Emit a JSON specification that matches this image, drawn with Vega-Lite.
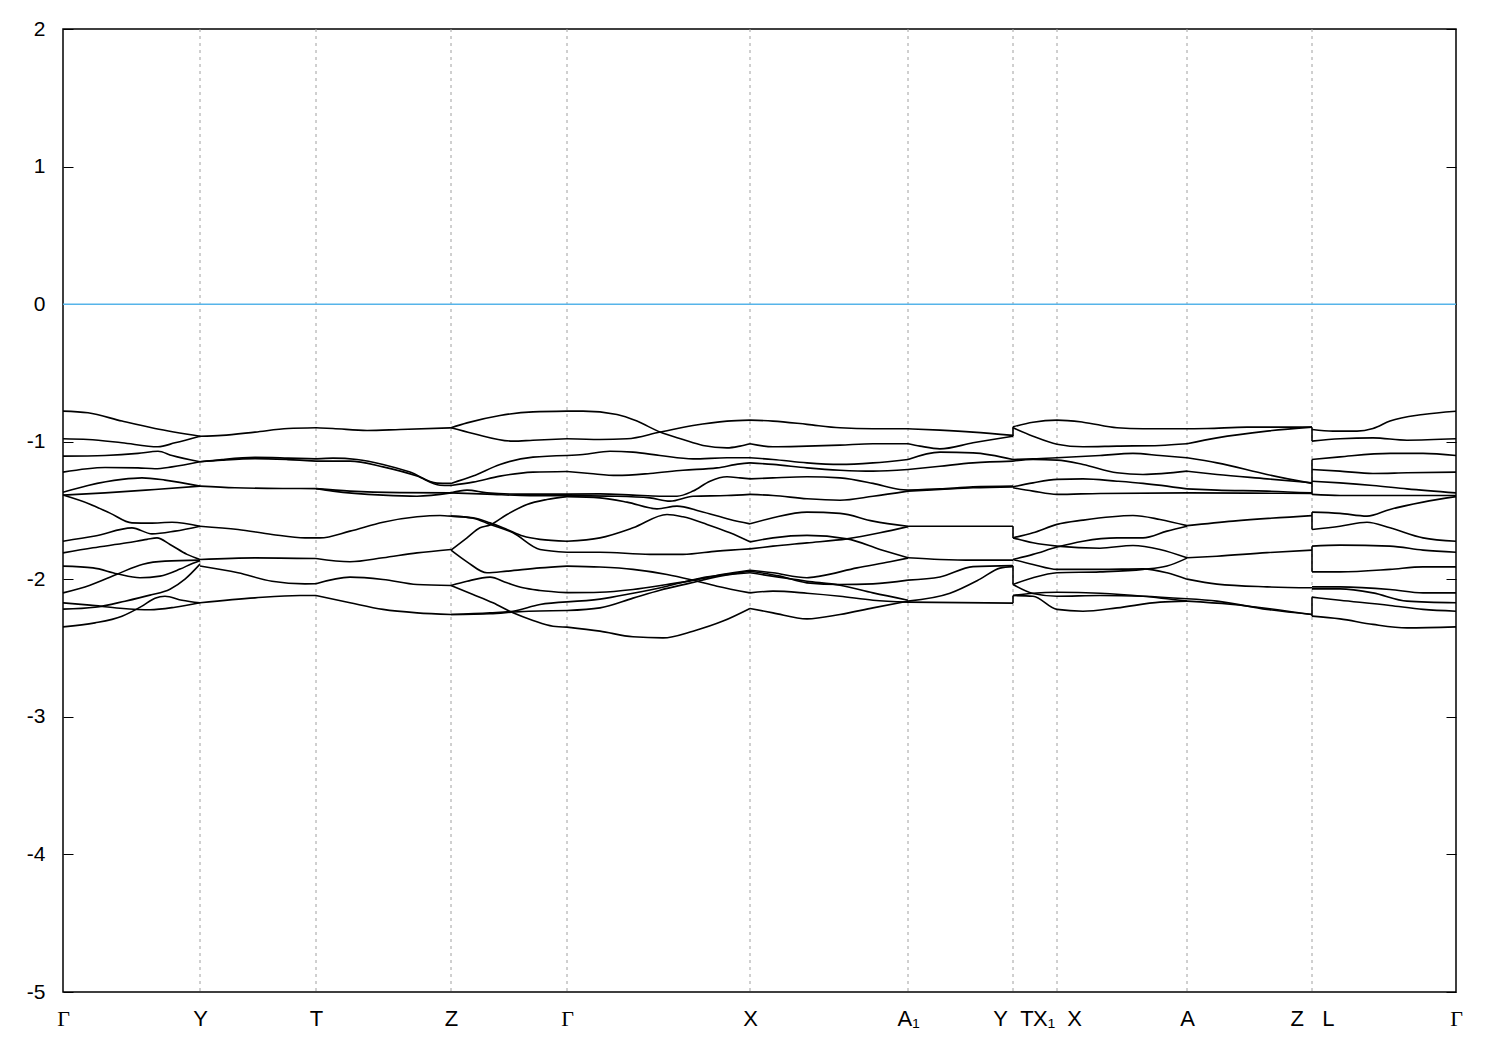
{
  "$schema": "https://vega.github.io/schema/vega-lite/v6.json",
  "width": 1393,
  "height": 963,
  "autosize": {"type": "none"},
  "padding": {"left": 63, "top": 29, "right": 44, "bottom": 58},
  "background": "white",
  "config": {"view": {"stroke": "black", "strokeWidth": 1.5}, "font": "Liberation Sans"},
  "resolve": {"axis": {"y": "independent"}},
  "layer": [
    {
      "data": {"values": [{"k": 137}, {"k": 253}, {"k": 388}, {"k": 504}, {"k": 687}, {"k": 845}, {"k": 950}, {"k": 994}, {"k": 1124}, {"k": 1249}]},
      "mark": {"type": "rule", "color": "#a0a0a0", "strokeWidth": 1, "strokeDash": [3, 4]},
      "encoding": {
        "x": {"field": "k", "type": "quantitative", "scale": {"domain": [0, 1393], "nice": false, "zero": false},
          "axis": {"values": [0, 137, 253, 388, 504, 687, 845, 950, 994, 1124, 1249, 1393], "title": null, "grid": false, "ticks": false, "domain": false, "labelOverlap": false, "labelFlush": false, "labelFontSize": 22, "labelColor": "black", "labelPadding": 16,
            "labelFont": {"condition": {"test": "datum.value == 0 || datum.value == 504 || datum.value == 1393", "value": "Liberation Serif"}, "value": "Liberation Sans"},
            "labelExpr": "datum.value == 0 || datum.value == 504 || datum.value == 1393 ? 'Γ' : datum.value == 137 ? 'Y' : datum.value == 253 ? 'T' : datum.value == 388 ? 'Z' : datum.value == 687 ? 'X' : datum.value == 845 ? 'A₁' : datum.value == 950 ? 'Y\u00a0\u00a0T' : datum.value == 994 ? 'X₁\u00a0\u00a0X' : datum.value == 1124 ? 'A' : 'Z\u00a0\u00a0\u00a0L'"}}
      }
    },
    {
      "data": {"values": [{"z": 0}]},
      "mark": {"type": "rule", "color": "#56b4e9", "strokeWidth": 1.5},
      "encoding": {
        "y": {"field": "z", "type": "quantitative", "scale": {"domain": [-5, 2], "nice": false, "zero": false},
          "axis": {"orient": "left", "values": [-5, -4, -3, -2, -1, 0, 1, 2], "title": null, "grid": false, "domain": false, "tickSize": -10, "tickColor": "black", "tickWidth": 1, "labelPadding": 28, "labelFontSize": 21, "labelColor": "black", "labelExpr": "'' + datum.value"}}
      }
    },
    {
      "data": {"values": [
{"s":"gyA","k":0,"E":-0.778},{"s":"gyA","k":25,"E":-0.790},{"s":"gyA","k":59,"E":-0.850},{"s":"gyA","k":92,"E":-0.904},{"s":"gyA","k":137,"E":-0.960},
{"s":"gyB","k":0,"E":-0.979},{"s":"gyB","k":25,"E":-0.984},{"s":"gyB","k":59,"E":-1.008},{"s":"gyB","k":95,"E":-1.037},{"s":"gyB","k":112,"E":-1.008},{"s":"gyB","k":137,"E":-0.960},
{"s":"gyC","k":0,"E":-1.105},{"s":"gyC","k":42,"E":-1.100},{"s":"gyC","k":75,"E":-1.085},{"s":"gyC","k":95,"E":-1.069},{"s":"gyC","k":109,"E":-1.100},{"s":"gyC","k":137,"E":-1.146},
{"s":"gyD","k":0,"E":-1.221},{"s":"gyD","k":42,"E":-1.187},{"s":"gyD","k":75,"E":-1.190},{"s":"gyD","k":92,"E":-1.197},{"s":"gyD","k":109,"E":-1.183},{"s":"gyD","k":137,"E":-1.146},
{"s":"gyE","k":0,"E":-1.367},{"s":"gyE","k":25,"E":-1.318},{"s":"gyE","k":59,"E":-1.274},{"s":"gyE","k":79,"E":-1.263},{"s":"gyE","k":102,"E":-1.279},{"s":"gyE","k":137,"E":-1.323},
{"s":"gyF","k":0,"E":-1.388},{"s":"gyF","k":42,"E":-1.372},{"s":"gyF","k":92,"E":-1.347},{"s":"gyF","k":137,"E":-1.323},
{"s":"gyG","k":0,"E":-1.388},{"s":"gyG","k":27,"E":-1.454},{"s":"gyG","k":47,"E":-1.519},{"s":"gyG","k":69,"E":-1.590},{"s":"gyG","k":87,"E":-1.592},{"s":"gyG","k":109,"E":-1.585},{"s":"gyG","k":137,"E":-1.614},
{"s":"gyH","k":0,"E":-1.723},{"s":"gyH","k":32,"E":-1.686},{"s":"gyH","k":69,"E":-1.626},{"s":"gyH","k":89,"E":-1.670},{"s":"gyH","k":112,"E":-1.650},{"s":"gyH","k":137,"E":-1.614},
{"s":"gyI","k":0,"E":-1.808},{"s":"gyI","k":30,"E":-1.771},{"s":"gyI","k":64,"E":-1.735},{"s":"gyI","k":84,"E":-1.710},{"s":"gyI","k":94,"E":-1.699},{"s":"gyI","k":107,"E":-1.747},{"s":"gyI","k":124,"E":-1.819},{"s":"gyI","k":137,"E":-1.856},
{"s":"gyJ","k":0,"E":-1.904},{"s":"gyJ","k":30,"E":-1.917},{"s":"gyJ","k":54,"E":-1.960},{"s":"gyJ","k":77,"E":-1.989},{"s":"gyJ","k":97,"E":-1.977},{"s":"gyJ","k":117,"E":-1.926},{"s":"gyJ","k":130,"E":-1.883},{"s":"gyJ","k":137,"E":-1.865},
{"s":"gyK","k":0,"E":-2.099},{"s":"gyK","k":27,"E":-2.043},{"s":"gyK","k":54,"E":-1.963},{"s":"gyK","k":80,"E":-1.890},{"s":"gyK","k":102,"E":-1.868},{"s":"gyK","k":137,"E":-1.861},
{"s":"gyL","k":0,"E":-2.217},{"s":"gyL","k":32,"E":-2.203},{"s":"gyL","k":62,"E":-2.159},{"s":"gyL","k":87,"E":-2.115},{"s":"gyL","k":107,"E":-2.072},{"s":"gyL","k":122,"E":-1.999},{"s":"gyL","k":137,"E":-1.890},
{"s":"gyM","k":0,"E":-2.171},{"s":"gyM","k":27,"E":-2.188},{"s":"gyM","k":57,"E":-2.210},{"s":"gyM","k":87,"E":-2.221},{"s":"gyM","k":112,"E":-2.203},{"s":"gyM","k":137,"E":-2.171},
{"s":"gyN","k":0,"E":-2.346},{"s":"gyN","k":32,"E":-2.317},{"s":"gyN","k":59,"E":-2.268},{"s":"gyN","k":79,"E":-2.195},{"s":"gyN","k":92,"E":-2.137},{"s":"gyN","k":102,"E":-2.123},{"s":"gyN","k":119,"E":-2.152},{"s":"gyN","k":137,"E":-2.171},
{"s":"yt1","k":137,"E":-0.960},{"s":"yt1","k":159,"E":-0.954},{"s":"yt1","k":192,"E":-0.930},{"s":"yt1","k":225,"E":-0.904},{"s":"yt1","k":253,"E":-0.899},
{"s":"yt2","k":137,"E":-1.146},{"s":"yt2","k":159,"E":-1.129},{"s":"yt2","k":192,"E":-1.114},{"s":"yt2","k":225,"E":-1.119},{"s":"yt2","k":253,"E":-1.125},
{"s":"yt3","k":137,"E":-1.146},{"s":"yt3","k":159,"E":-1.134},{"s":"yt3","k":192,"E":-1.123},{"s":"yt3","k":225,"E":-1.130},{"s":"yt3","k":253,"E":-1.141},
{"s":"yt4","k":137,"E":-1.323},{"s":"yt4","k":172,"E":-1.335},{"s":"yt4","k":225,"E":-1.340},{"s":"yt4","k":253,"E":-1.341},
{"s":"yt5","k":137,"E":-1.614},{"s":"yt5","k":175,"E":-1.638},{"s":"yt5","k":209,"E":-1.674},{"s":"yt5","k":242,"E":-1.699},{"s":"yt5","k":253,"E":-1.699},
{"s":"yt6","k":137,"E":-1.856},{"s":"yt6","k":192,"E":-1.844},{"s":"yt6","k":253,"E":-1.849},
{"s":"yt7","k":137,"E":-1.904},{"s":"yt7","k":175,"E":-1.953},{"s":"yt7","k":209,"E":-2.014},{"s":"yt7","k":242,"E":-2.033},{"s":"yt7","k":253,"E":-2.032},
{"s":"yt8","k":137,"E":-2.171},{"s":"yt8","k":192,"E":-2.135},{"s":"yt8","k":237,"E":-2.118},{"s":"yt8","k":253,"E":-2.118},
{"s":"tz1","k":253,"E":-0.899},{"s":"tz1","k":270,"E":-0.904},{"s":"tz1","k":304,"E":-0.918},{"s":"tz1","k":337,"E":-0.911},{"s":"tz1","k":388,"E":-0.899},
{"s":"tz2","k":253,"E":-1.125},{"s":"tz2","k":270,"E":-1.119},{"s":"tz2","k":294,"E":-1.129},{"s":"tz2","k":320,"E":-1.165},{"s":"tz2","k":347,"E":-1.221},{"s":"tz2","k":374,"E":-1.301},{"s":"tz2","k":388,"E":-1.303},
{"s":"tz3","k":253,"E":-1.141},{"s":"tz3","k":287,"E":-1.141},{"s":"tz3","k":320,"E":-1.183},{"s":"tz3","k":354,"E":-1.250},{"s":"tz3","k":377,"E":-1.316},{"s":"tz3","k":388,"E":-1.318},
{"s":"tz4","k":253,"E":-1.341},{"s":"tz4","k":287,"E":-1.359},{"s":"tz4","k":337,"E":-1.370},{"s":"tz4","k":388,"E":-1.372},
{"s":"tz5","k":253,"E":-1.341},{"s":"tz5","k":270,"E":-1.359},{"s":"tz5","k":320,"E":-1.388},{"s":"tz5","k":354,"E":-1.396},{"s":"tz5","k":388,"E":-1.372},
{"s":"tz6","k":253,"E":-1.699},{"s":"tz6","k":257,"E":-1.699},{"s":"tz6","k":287,"E":-1.650},{"s":"tz6","k":320,"E":-1.585},{"s":"tz6","k":354,"E":-1.546},{"s":"tz6","k":377,"E":-1.536},{"s":"tz6","k":388,"E":-1.541},
{"s":"tz7","k":253,"E":-1.849},{"s":"tz7","k":287,"E":-1.873},{"s":"tz7","k":320,"E":-1.844},{"s":"tz7","k":354,"E":-1.808},{"s":"tz7","k":388,"E":-1.783},
{"s":"tz8","k":253,"E":-2.032},{"s":"tz8","k":287,"E":-1.984},{"s":"tz8","k":320,"E":-2.001},{"s":"tz8","k":354,"E":-2.038},{"s":"tz8","k":388,"E":-2.045},
{"s":"tz9","k":253,"E":-2.118},{"s":"tz9","k":287,"E":-2.171},{"s":"tz9","k":320,"E":-2.219},{"s":"tz9","k":354,"E":-2.244},{"s":"tz9","k":388,"E":-2.256},
{"s":"zg1","k":388,"E":-0.899},{"s":"zg1","k":404,"E":-0.863},{"s":"zg1","k":437,"E":-0.809},{"s":"zg1","k":470,"E":-0.783},{"s":"zg1","k":504,"E":-0.778},
{"s":"zg2","k":388,"E":-0.899},{"s":"zg2","k":410,"E":-0.940},{"s":"zg2","k":450,"E":-0.996},{"s":"zg2","k":470,"E":-0.989},{"s":"zg2","k":504,"E":-0.979},
{"s":"zg3","k":388,"E":-1.303},{"s":"zg3","k":410,"E":-1.250},{"s":"zg3","k":437,"E":-1.165},{"s":"zg3","k":470,"E":-1.112},{"s":"zg3","k":504,"E":-1.100},
{"s":"zg4","k":388,"E":-1.318},{"s":"zg4","k":410,"E":-1.294},{"s":"zg4","k":437,"E":-1.250},{"s":"zg4","k":470,"E":-1.221},{"s":"zg4","k":504,"E":-1.216},
{"s":"zg5","k":388,"E":-1.372},{"s":"zg5","k":404,"E":-1.352},{"s":"zg5","k":424,"E":-1.372},{"s":"zg5","k":454,"E":-1.381},{"s":"zg5","k":504,"E":-1.381},
{"s":"zg6","k":388,"E":-1.372},{"s":"zg6","k":424,"E":-1.381},{"s":"zg6","k":467,"E":-1.392},{"s":"zg6","k":504,"E":-1.392},
{"s":"zg7","k":388,"E":-1.788},{"s":"zg7","k":404,"E":-1.699},{"s":"zg7","k":417,"E":-1.626},{"s":"zg7","k":427,"E":-1.606},{"s":"zg7","k":444,"E":-1.529},{"s":"zg7","k":464,"E":-1.456},{"s":"zg7","k":484,"E":-1.420},{"s":"zg7","k":504,"E":-1.399},
{"s":"zg8","k":388,"E":-1.541},{"s":"zg8","k":410,"E":-1.553},{"s":"zg8","k":427,"E":-1.590},{"s":"zg8","k":444,"E":-1.638},{"s":"zg8","k":460,"E":-1.686},{"s":"zg8","k":477,"E":-1.710},{"s":"zg8","k":504,"E":-1.723},
{"s":"zg9","k":388,"E":-1.541},{"s":"zg9","k":410,"E":-1.556},{"s":"zg9","k":427,"E":-1.601},{"s":"zg9","k":450,"E":-1.662},{"s":"zg9","k":477,"E":-1.783},{"s":"zg9","k":504,"E":-1.803},
{"s":"zg10","k":388,"E":-1.788},{"s":"zg10","k":404,"E":-1.873},{"s":"zg10","k":424,"E":-1.953},{"s":"zg10","k":444,"E":-1.941},{"s":"zg10","k":477,"E":-1.917},{"s":"zg10","k":504,"E":-1.904},
{"s":"zg11","k":388,"E":-2.045},{"s":"zg11","k":404,"E":-2.014},{"s":"zg11","k":427,"E":-1.984},{"s":"zg11","k":444,"E":-2.026},{"s":"zg11","k":460,"E":-2.062},{"s":"zg11","k":477,"E":-2.081},{"s":"zg11","k":504,"E":-2.097},
{"s":"zg12","k":388,"E":-2.045},{"s":"zg12","k":410,"E":-2.110},{"s":"zg12","k":430,"E":-2.171},{"s":"zg12","k":450,"E":-2.244},{"s":"zg12","k":470,"E":-2.299},{"s":"zg12","k":490,"E":-2.341},{"s":"zg12","k":504,"E":-2.348},
{"s":"zg13","k":388,"E":-2.256},{"s":"zg13","k":427,"E":-2.244},{"s":"zg13","k":450,"E":-2.232},{"s":"zg13","k":477,"E":-2.183},{"s":"zg13","k":504,"E":-2.164},
{"s":"zg14","k":388,"E":-2.256},{"s":"zg14","k":427,"E":-2.250},{"s":"zg14","k":457,"E":-2.235},{"s":"zg14","k":504,"E":-2.227},
{"s":"gx1","k":504,"E":-0.778},{"s":"gx1","k":520,"E":-0.778},{"s":"gx1","k":554,"E":-0.802},{"s":"gx1","k":574,"E":-0.850},{"s":"gx1","k":597,"E":-0.930},{"s":"gx1","k":620,"E":-0.984},{"s":"gx1","k":640,"E":-1.027},{"s":"gx1","k":664,"E":-1.045},{"s":"gx1","k":677,"E":-1.032},{"s":"gx1","k":687,"E":-1.015},
{"s":"gx2","k":504,"E":-0.979},{"s":"gx2","k":537,"E":-0.984},{"s":"gx2","k":564,"E":-0.979},{"s":"gx2","k":597,"E":-0.930},{"s":"gx2","k":630,"E":-0.882},{"s":"gx2","k":664,"E":-0.850},{"s":"gx2","k":687,"E":-0.843},
{"s":"gx3","k":504,"E":-1.100},{"s":"gx3","k":520,"E":-1.093},{"s":"gx3","k":547,"E":-1.069},{"s":"gx3","k":570,"E":-1.076},{"s":"gx3","k":597,"E":-1.100},{"s":"gx3","k":630,"E":-1.125},{"s":"gx3","k":664,"E":-1.117},{"s":"gx3","k":687,"E":-1.117},
{"s":"gx4","k":504,"E":-1.216},{"s":"gx4","k":527,"E":-1.231},{"s":"gx4","k":554,"E":-1.245},{"s":"gx4","k":587,"E":-1.231},{"s":"gx4","k":620,"E":-1.207},{"s":"gx4","k":654,"E":-1.190},{"s":"gx4","k":677,"E":-1.161},{"s":"gx4","k":687,"E":-1.154},
{"s":"gx5","k":504,"E":-1.381},{"s":"gx5","k":537,"E":-1.379},{"s":"gx5","k":570,"E":-1.388},{"s":"gx5","k":597,"E":-1.396},{"s":"gx5","k":614,"E":-1.396},{"s":"gx5","k":630,"E":-1.359},{"s":"gx5","k":647,"E":-1.287},{"s":"gx5","k":664,"E":-1.255},{"s":"gx5","k":677,"E":-1.263},{"s":"gx5","k":687,"E":-1.270},
{"s":"gx6","k":504,"E":-1.392},{"s":"gx6","k":554,"E":-1.396},{"s":"gx6","k":587,"E":-1.408},{"s":"gx6","k":607,"E":-1.432},{"s":"gx6","k":630,"E":-1.396},{"s":"gx6","k":664,"E":-1.391},{"s":"gx6","k":687,"E":-1.383},
{"s":"gx7","k":504,"E":-1.399},{"s":"gx7","k":537,"E":-1.408},{"s":"gx7","k":564,"E":-1.439},{"s":"gx7","k":594,"E":-1.488},{"s":"gx7","k":614,"E":-1.468},{"s":"gx7","k":637,"E":-1.505},{"s":"gx7","k":667,"E":-1.565},{"s":"gx7","k":687,"E":-1.597},
{"s":"gx8","k":504,"E":-1.723},{"s":"gx8","k":537,"E":-1.699},{"s":"gx8","k":570,"E":-1.626},{"s":"gx8","k":604,"E":-1.529},{"s":"gx8","k":620,"E":-1.546},{"s":"gx8","k":644,"E":-1.601},{"s":"gx8","k":667,"E":-1.662},{"s":"gx8","k":687,"E":-1.728},
{"s":"gx9","k":504,"E":-1.803},{"s":"gx9","k":537,"E":-1.803},{"s":"gx9","k":587,"E":-1.819},{"s":"gx9","k":620,"E":-1.819},{"s":"gx9","k":654,"E":-1.795},{"s":"gx9","k":687,"E":-1.779},
{"s":"gx10","k":504,"E":-1.904},{"s":"gx10","k":537,"E":-1.911},{"s":"gx10","k":570,"E":-1.928},{"s":"gx10","k":604,"E":-1.965},{"s":"gx10","k":627,"E":-2.001},{"s":"gx10","k":654,"E":-2.050},{"s":"gx10","k":687,"E":-2.099},
{"s":"gx11","k":504,"E":-2.097},{"s":"gx11","k":537,"E":-2.094},{"s":"gx11","k":570,"E":-2.074},{"s":"gx11","k":604,"E":-2.038},{"s":"gx11","k":630,"E":-2.008},{"s":"gx11","k":660,"E":-1.963},{"s":"gx11","k":687,"E":-1.934},
{"s":"gx12","k":504,"E":-2.164},{"s":"gx12","k":537,"E":-2.144},{"s":"gx12","k":570,"E":-2.101},{"s":"gx12","k":604,"E":-2.050},{"s":"gx12","k":637,"E":-1.992},{"s":"gx12","k":674,"E":-1.955},{"s":"gx12","k":687,"E":-1.941},
{"s":"gx13","k":504,"E":-2.227},{"s":"gx13","k":537,"E":-2.208},{"s":"gx13","k":570,"E":-2.137},{"s":"gx13","k":597,"E":-2.079},{"s":"gx13","k":627,"E":-2.028},{"s":"gx13","k":657,"E":-1.977},{"s":"gx13","k":687,"E":-1.953},
{"s":"gx14","k":504,"E":-2.348},{"s":"gx14","k":537,"E":-2.377},{"s":"gx14","k":570,"E":-2.418},{"s":"gx14","k":600,"E":-2.426},{"s":"gx14","k":630,"E":-2.377},{"s":"gx14","k":660,"E":-2.304},{"s":"gx14","k":687,"E":-2.212},
{"s":"xa1","k":687,"E":-0.843},{"s":"xa1","k":710,"E":-0.850},{"s":"xa1","k":744,"E":-0.874},{"s":"xa1","k":777,"E":-0.899},{"s":"xa1","k":810,"E":-0.906},{"s":"xa1","k":845,"E":-0.906},
{"s":"xa2","k":687,"E":-1.015},{"s":"xa2","k":710,"E":-1.037},{"s":"xa2","k":744,"E":-1.032},{"s":"xa2","k":777,"E":-1.025},{"s":"xa2","k":810,"E":-1.015},{"s":"xa2","k":845,"E":-1.015},
{"s":"xa3","k":687,"E":-1.117},{"s":"xa3","k":710,"E":-1.129},{"s":"xa3","k":744,"E":-1.154},{"s":"xa3","k":777,"E":-1.165},{"s":"xa3","k":810,"E":-1.154},{"s":"xa3","k":845,"E":-1.129},
{"s":"xa4","k":687,"E":-1.154},{"s":"xa4","k":710,"E":-1.165},{"s":"xa4","k":744,"E":-1.190},{"s":"xa4","k":777,"E":-1.207},{"s":"xa4","k":810,"E":-1.214},{"s":"xa4","k":845,"E":-1.202},
{"s":"xa5","k":687,"E":-1.270},{"s":"xa5","k":710,"E":-1.263},{"s":"xa5","k":744,"E":-1.255},{"s":"xa5","k":777,"E":-1.263},{"s":"xa5","k":810,"E":-1.303},{"s":"xa5","k":837,"E":-1.347},{"s":"xa5","k":845,"E":-1.352},
{"s":"xa6","k":687,"E":-1.383},{"s":"xa6","k":710,"E":-1.391},{"s":"xa6","k":744,"E":-1.415},{"s":"xa6","k":777,"E":-1.425},{"s":"xa6","k":810,"E":-1.396},{"s":"xa6","k":845,"E":-1.359},
{"s":"xa7","k":687,"E":-1.597},{"s":"xa7","k":710,"E":-1.553},{"s":"xa7","k":744,"E":-1.512},{"s":"xa7","k":777,"E":-1.521},{"s":"xa7","k":810,"E":-1.577},{"s":"xa7","k":845,"E":-1.614},
{"s":"xa8","k":687,"E":-1.728},{"s":"xa8","k":710,"E":-1.699},{"s":"xa8","k":744,"E":-1.681},{"s":"xa8","k":784,"E":-1.706},{"s":"xa8","k":817,"E":-1.783},{"s":"xa8","k":845,"E":-1.844},
{"s":"xa9","k":687,"E":-1.779},{"s":"xa9","k":710,"E":-1.759},{"s":"xa9","k":744,"E":-1.735},{"s":"xa9","k":784,"E":-1.706},{"s":"xa9","k":817,"E":-1.662},{"s":"xa9","k":845,"E":-1.617},
{"s":"xa10","k":687,"E":-1.934},{"s":"xa10","k":710,"E":-1.953},{"s":"xa10","k":744,"E":-1.989},{"s":"xa10","k":757,"E":-1.977},{"s":"xa10","k":794,"E":-1.917},{"s":"xa10","k":827,"E":-1.873},{"s":"xa10","k":845,"E":-1.846},
{"s":"xa11","k":687,"E":-1.941},{"s":"xa11","k":717,"E":-1.977},{"s":"xa11","k":744,"E":-2.026},{"s":"xa11","k":777,"E":-2.038},{"s":"xa11","k":810,"E":-2.033},{"s":"xa11","k":845,"E":-2.006},
{"s":"xa12","k":687,"E":-1.953},{"s":"xa12","k":744,"E":-2.014},{"s":"xa12","k":777,"E":-2.043},{"s":"xa12","k":810,"E":-2.099},{"s":"xa12","k":845,"E":-2.152},
{"s":"xa13","k":687,"E":-2.099},{"s":"xa13","k":710,"E":-2.086},{"s":"xa13","k":744,"E":-2.101},{"s":"xa13","k":777,"E":-2.123},{"s":"xa13","k":810,"E":-2.152},{"s":"xa13","k":845,"E":-2.166},
{"s":"xa14","k":687,"E":-2.212},{"s":"xa14","k":710,"E":-2.244},{"s":"xa14","k":744,"E":-2.288},{"s":"xa14","k":777,"E":-2.256},{"s":"xa14","k":810,"E":-2.208},{"s":"xa14","k":845,"E":-2.159},
{"s":"ay1","k":845,"E":-0.906},{"s":"ay1","k":877,"E":-0.916},{"s":"ay1","k":910,"E":-0.930},{"s":"ay1","k":950,"E":-0.954},
{"s":"ay2","k":845,"E":-1.015},{"s":"ay2","k":857,"E":-1.032},{"s":"ay2","k":877,"E":-1.052},{"s":"ay2","k":910,"E":-1.008},{"s":"ay2","k":950,"E":-0.960},
{"s":"ay3","k":845,"E":-1.129},{"s":"ay3","k":877,"E":-1.076},{"s":"ay3","k":910,"E":-1.081},{"s":"ay3","k":950,"E":-1.129},
{"s":"ay4","k":845,"E":-1.202},{"s":"ay4","k":877,"E":-1.178},{"s":"ay4","k":910,"E":-1.154},{"s":"ay4","k":950,"E":-1.141},
{"s":"ay5","k":845,"E":-1.352},{"s":"ay5","k":877,"E":-1.343},{"s":"ay5","k":910,"E":-1.328},{"s":"ay5","k":950,"E":-1.323},
{"s":"ay6","k":845,"E":-1.359},{"s":"ay6","k":877,"E":-1.347},{"s":"ay6","k":910,"E":-1.335},{"s":"ay6","k":950,"E":-1.328},
{"s":"ay7","k":845,"E":-1.614},{"s":"ay7","k":950,"E":-1.614},
{"s":"ay8","k":845,"E":-1.844},{"s":"ay8","k":877,"E":-1.856},{"s":"ay8","k":910,"E":-1.861},{"s":"ay8","k":950,"E":-1.861},
{"s":"ay9","k":845,"E":-2.006},{"s":"ay9","k":877,"E":-1.984},{"s":"ay9","k":910,"E":-1.908},{"s":"ay9","k":950,"E":-1.901},
{"s":"ay10","k":845,"E":-2.159},{"s":"ay10","k":887,"E":-2.101},{"s":"ay10","k":917,"E":-1.999},{"s":"ay10","k":937,"E":-1.919},{"s":"ay10","k":950,"E":-1.908},
{"s":"ay11","k":845,"E":-2.166},{"s":"ay11","k":950,"E":-2.173},
{"s":"ta1","k":950,"E":-0.892},{"s":"ta1","k":970,"E":-0.858},{"s":"ta1","k":994,"E":-0.843},{"s":"ta1","k":1020,"E":-0.858},{"s":"ta1","k":1054,"E":-0.899},{"s":"ta1","k":1080,"E":-0.906},{"s":"ta1","k":1124,"E":-0.906},
{"s":"ta2","k":950,"E":-0.899},{"s":"ta2","k":970,"E":-0.960},{"s":"ta2","k":994,"E":-1.018},{"s":"ta2","k":1020,"E":-1.037},{"s":"ta2","k":1054,"E":-1.032},{"s":"ta2","k":1097,"E":-1.027},{"s":"ta2","k":1124,"E":-1.015},
{"s":"ta3","k":950,"E":-1.129},{"s":"ta3","k":970,"E":-1.125},{"s":"ta3","k":994,"E":-1.117},{"s":"ta3","k":1037,"E":-1.100},{"s":"ta3","k":1070,"E":-1.085},{"s":"ta3","k":1097,"E":-1.100},{"s":"ta3","k":1124,"E":-1.117},
{"s":"ta4","k":950,"E":-1.141},{"s":"ta4","k":970,"E":-1.129},{"s":"ta4","k":994,"E":-1.134},{"s":"ta4","k":1020,"E":-1.165},{"s":"ta4","k":1054,"E":-1.226},{"s":"ta4","k":1080,"E":-1.238},{"s":"ta4","k":1124,"E":-1.214},
{"s":"ta5","k":950,"E":-1.328},{"s":"ta5","k":970,"E":-1.299},{"s":"ta5","k":994,"E":-1.274},{"s":"ta5","k":1020,"E":-1.270},{"s":"ta5","k":1054,"E":-1.287},{"s":"ta5","k":1080,"E":-1.303},{"s":"ta5","k":1124,"E":-1.343},
{"s":"ta6","k":950,"E":-1.335},{"s":"ta6","k":970,"E":-1.359},{"s":"ta6","k":994,"E":-1.383},{"s":"ta6","k":1037,"E":-1.376},{"s":"ta6","k":1124,"E":-1.372},
{"s":"ta7","k":950,"E":-1.699},{"s":"ta7","k":970,"E":-1.662},{"s":"ta7","k":994,"E":-1.601},{"s":"ta7","k":1020,"E":-1.570},{"s":"ta7","k":1070,"E":-1.536},{"s":"ta7","k":1097,"E":-1.565},{"s":"ta7","k":1124,"E":-1.610},
{"s":"ta8","k":950,"E":-1.699},{"s":"ta8","k":970,"E":-1.735},{"s":"ta8","k":994,"E":-1.759},{"s":"ta8","k":1037,"E":-1.774},{"s":"ta8","k":1070,"E":-1.754},{"s":"ta8","k":1097,"E":-1.783},{"s":"ta8","k":1124,"E":-1.844},
{"s":"ta9","k":950,"E":-1.856},{"s":"ta9","k":970,"E":-1.819},{"s":"ta9","k":994,"E":-1.766},{"s":"ta9","k":1020,"E":-1.723},{"s":"ta9","k":1054,"E":-1.699},{"s":"ta9","k":1080,"E":-1.699},{"s":"ta9","k":1104,"E":-1.650},{"s":"ta9","k":1124,"E":-1.614},
{"s":"ta10","k":950,"E":-1.856},{"s":"ta10","k":970,"E":-1.892},{"s":"ta10","k":994,"E":-1.928},{"s":"ta10","k":1037,"E":-1.928},{"s":"ta10","k":1080,"E":-1.924},{"s":"ta10","k":1104,"E":-1.953},{"s":"ta10","k":1124,"E":-1.999},
{"s":"ta11","k":950,"E":-2.038},{"s":"ta11","k":970,"E":-1.989},{"s":"ta11","k":994,"E":-1.953},{"s":"ta11","k":1037,"E":-1.946},{"s":"ta11","k":1080,"E":-1.928},{"s":"ta11","k":1104,"E":-1.904},{"s":"ta11","k":1124,"E":-1.846},
{"s":"ta12","k":950,"E":-2.038},{"s":"ta12","k":970,"E":-2.103},{"s":"ta12","k":994,"E":-2.123},{"s":"ta12","k":1037,"E":-2.118},{"s":"ta12","k":1080,"E":-2.123},{"s":"ta12","k":1124,"E":-2.142},
{"s":"ta13","k":950,"E":-2.118},{"s":"ta13","k":970,"E":-2.101},{"s":"ta13","k":994,"E":-2.094},{"s":"ta13","k":1037,"E":-2.101},{"s":"ta13","k":1080,"E":-2.123},{"s":"ta13","k":1124,"E":-2.159},
{"s":"ta14","k":950,"E":-2.118},{"s":"ta14","k":970,"E":-2.123},{"s":"ta14","k":994,"E":-2.219},{"s":"ta14","k":1020,"E":-2.232},{"s":"ta14","k":1054,"E":-2.208},{"s":"ta14","k":1097,"E":-2.166},{"s":"ta14","k":1124,"E":-2.159},
{"s":"az1","k":1124,"E":-0.906},{"s":"az1","k":1144,"E":-0.904},{"s":"az1","k":1184,"E":-0.894},{"s":"az1","k":1249,"E":-0.894},
{"s":"az2","k":1124,"E":-1.015},{"s":"az2","k":1154,"E":-0.972},{"s":"az2","k":1204,"E":-0.923},{"s":"az2","k":1249,"E":-0.894},
{"s":"az3","k":1124,"E":-1.117},{"s":"az3","k":1154,"E":-1.154},{"s":"az3","k":1204,"E":-1.238},{"s":"az3","k":1249,"E":-1.303},
{"s":"az4","k":1124,"E":-1.214},{"s":"az4","k":1154,"E":-1.238},{"s":"az4","k":1204,"E":-1.270},{"s":"az4","k":1249,"E":-1.299},
{"s":"az5","k":1124,"E":-1.343},{"s":"az5","k":1154,"E":-1.352},{"s":"az5","k":1204,"E":-1.359},{"s":"az5","k":1249,"E":-1.372},
{"s":"az6","k":1124,"E":-1.372},{"s":"az6","k":1187,"E":-1.374},{"s":"az6","k":1249,"E":-1.376},
{"s":"az7","k":1124,"E":-1.610},{"s":"az7","k":1170,"E":-1.577},{"s":"az7","k":1249,"E":-1.537},
{"s":"az8","k":1124,"E":-1.844},{"s":"az8","k":1154,"E":-1.832},{"s":"az8","k":1204,"E":-1.806},{"s":"az8","k":1249,"E":-1.788},
{"s":"az9","k":1124,"E":-1.999},{"s":"az9","k":1154,"E":-2.035},{"s":"az9","k":1204,"E":-2.055},{"s":"az9","k":1249,"E":-2.062},
{"s":"az10","k":1124,"E":-2.142},{"s":"az10","k":1154,"E":-2.159},{"s":"az10","k":1204,"E":-2.219},{"s":"az10","k":1249,"E":-2.256},
{"s":"az11","k":1124,"E":-2.159},{"s":"az11","k":1167,"E":-2.181},{"s":"az11","k":1249,"E":-2.256},
{"s":"lg1","k":1249,"E":-0.911},{"s":"lg1","k":1270,"E":-0.923},{"s":"lg1","k":1294,"E":-0.923},{"s":"lg1","k":1310,"E":-0.904},{"s":"lg1","k":1327,"E":-0.850},{"s":"lg1","k":1360,"E":-0.802},{"s":"lg1","k":1393,"E":-0.778},
{"s":"lg2","k":1249,"E":-0.996},{"s":"lg2","k":1277,"E":-0.979},{"s":"lg2","k":1310,"E":-0.972},{"s":"lg2","k":1344,"E":-0.989},{"s":"lg2","k":1393,"E":-0.979},
{"s":"lg3","k":1249,"E":-1.129},{"s":"lg3","k":1277,"E":-1.110},{"s":"lg3","k":1327,"E":-1.085},{"s":"lg3","k":1360,"E":-1.085},{"s":"lg3","k":1393,"E":-1.100},
{"s":"lg4","k":1249,"E":-1.202},{"s":"lg4","k":1277,"E":-1.214},{"s":"lg4","k":1310,"E":-1.231},{"s":"lg4","k":1344,"E":-1.226},{"s":"lg4","k":1393,"E":-1.221},
{"s":"lg5","k":1249,"E":-1.287},{"s":"lg5","k":1277,"E":-1.299},{"s":"lg5","k":1310,"E":-1.318},{"s":"lg5","k":1344,"E":-1.343},{"s":"lg5","k":1393,"E":-1.372},
{"s":"lg6","k":1249,"E":-1.383},{"s":"lg6","k":1277,"E":-1.391},{"s":"lg6","k":1327,"E":-1.391},{"s":"lg6","k":1393,"E":-1.391},
{"s":"lg7","k":1249,"E":-1.512},{"s":"lg7","k":1277,"E":-1.521},{"s":"lg7","k":1304,"E":-1.541},{"s":"lg7","k":1327,"E":-1.492},{"s":"lg7","k":1360,"E":-1.439},{"s":"lg7","k":1393,"E":-1.399},
{"s":"lg8","k":1249,"E":-1.638},{"s":"lg8","k":1277,"E":-1.614},{"s":"lg8","k":1304,"E":-1.585},{"s":"lg8","k":1327,"E":-1.626},{"s":"lg8","k":1360,"E":-1.699},{"s":"lg8","k":1393,"E":-1.723},
{"s":"lg9","k":1249,"E":-1.759},{"s":"lg9","k":1277,"E":-1.752},{"s":"lg9","k":1327,"E":-1.759},{"s":"lg9","k":1360,"E":-1.788},{"s":"lg9","k":1393,"E":-1.803},
{"s":"lg10","k":1249,"E":-1.946},{"s":"lg10","k":1277,"E":-1.946},{"s":"lg10","k":1327,"E":-1.928},{"s":"lg10","k":1360,"E":-1.910},{"s":"lg10","k":1393,"E":-1.910},
{"s":"lg11","k":1249,"E":-2.055},{"s":"lg11","k":1277,"E":-2.055},{"s":"lg11","k":1327,"E":-2.074},{"s":"lg11","k":1360,"E":-2.099},{"s":"lg11","k":1393,"E":-2.099},
{"s":"lg12","k":1249,"E":-2.070},{"s":"lg12","k":1277,"E":-2.070},{"s":"lg12","k":1310,"E":-2.099},{"s":"lg12","k":1344,"E":-2.159},{"s":"lg12","k":1393,"E":-2.171},
{"s":"lg13","k":1249,"E":-2.130},{"s":"lg13","k":1277,"E":-2.152},{"s":"lg13","k":1327,"E":-2.190},{"s":"lg13","k":1360,"E":-2.219},{"s":"lg13","k":1393,"E":-2.232},
{"s":"lg14","k":1249,"E":-2.268},{"s":"lg14","k":1277,"E":-2.288},{"s":"lg14","k":1310,"E":-2.328},{"s":"lg14","k":1344,"E":-2.353},{"s":"lg14","k":1393,"E":-2.346}
      ]},
      "mark": {"type": "line", "color": "black", "strokeWidth": 1.6, "interpolate": "monotone"},
      "encoding": {
        "x": {"field": "k", "type": "quantitative",
          "axis": {"values": [0, 137, 253, 388, 504, 687, 845, 950, 994, 1124, 1249, 1393], "title": null, "grid": false, "ticks": false, "domain": false, "labelOverlap": false, "labelFlush": false, "labelFontSize": 22, "labelColor": "black", "labelPadding": 16,
            "labelFont": {"condition": {"test": "datum.value == 0 || datum.value == 504 || datum.value == 1393", "value": "Liberation Serif"}, "value": "Liberation Sans"},
            "labelExpr": "datum.value == 0 || datum.value == 504 || datum.value == 1393 ? 'Γ' : datum.value == 137 ? 'Y' : datum.value == 253 ? 'T' : datum.value == 388 ? 'Z' : datum.value == 687 ? 'X' : datum.value == 845 ? 'A₁' : datum.value == 950 ? 'Y\u00a0\u00a0T' : datum.value == 994 ? 'X₁\u00a0\u00a0X' : datum.value == 1124 ? 'A' : 'Z\u00a0\u00a0\u00a0L'"}},
        "y": {"field": "E", "type": "quantitative", "axis": null},
        "detail": {"field": "s", "type": "nominal"}
      }
    },
    {
      "data": {"values": [
        {"k": 950, "a": -0.960, "b": -0.892}, {"k": 950, "a": -1.614, "b": -1.699}, {"k": 950, "a": -1.901, "b": -2.038}, {"k": 950, "a": -2.173, "b": -2.118},
        {"k": 1249, "a": -0.894, "b": -0.996}, {"k": 1249, "a": -1.129, "b": -1.383}, {"k": 1249, "a": -1.512, "b": -1.638}, {"k": 1249, "a": -1.759, "b": -1.946}, {"k": 1249, "a": -2.130, "b": -2.268}
      ]},
      "mark": {"type": "rule", "color": "black", "strokeWidth": 1.6},
      "encoding": {
        "x": {"field": "k", "type": "quantitative",
          "axis": {"values": [0, 137, 253, 388, 504, 687, 845, 950, 994, 1124, 1249, 1393], "title": null, "grid": false, "ticks": false, "domain": false, "labelOverlap": false, "labelFlush": false, "labelFontSize": 22, "labelColor": "black", "labelPadding": 16,
            "labelFont": {"condition": {"test": "datum.value == 0 || datum.value == 504 || datum.value == 1393", "value": "Liberation Serif"}, "value": "Liberation Sans"},
            "labelExpr": "datum.value == 0 || datum.value == 504 || datum.value == 1393 ? 'Γ' : datum.value == 137 ? 'Y' : datum.value == 253 ? 'T' : datum.value == 388 ? 'Z' : datum.value == 687 ? 'X' : datum.value == 845 ? 'A₁' : datum.value == 950 ? 'Y\u00a0\u00a0T' : datum.value == 994 ? 'X₁\u00a0\u00a0X' : datum.value == 1124 ? 'A' : 'Z\u00a0\u00a0\u00a0L'"}},
        "y": {"field": "a", "type": "quantitative",
          "axis": {"orient": "right", "values": [-5, -4, -3, -2, -1, 0, 1, 2], "title": null, "grid": false, "domain": false, "labels": false, "tickSize": -10, "tickColor": "black", "tickWidth": 1}},
        "y2": {"field": "b"}
      }
    }
  ]
}
